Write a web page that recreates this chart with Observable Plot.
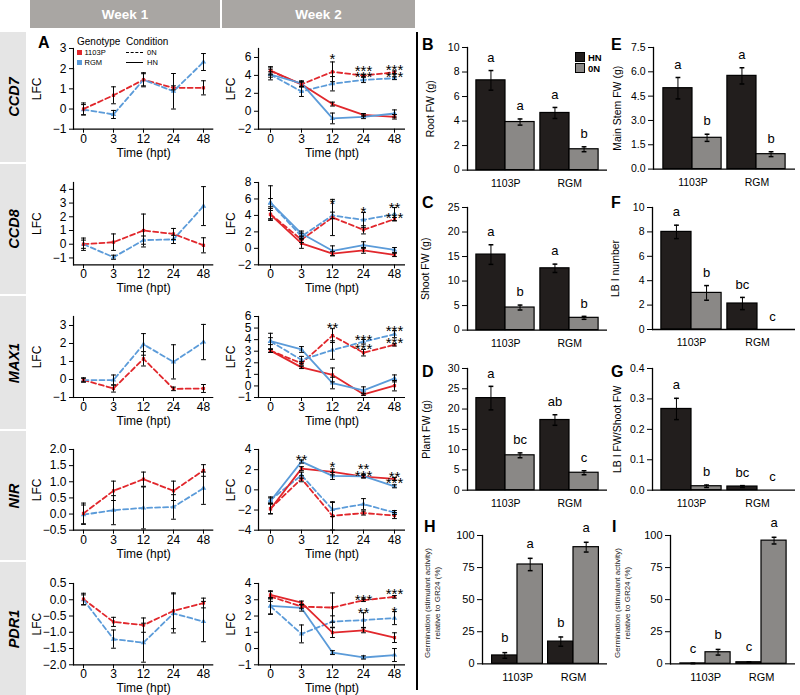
<!DOCTYPE html>
<html><head><meta charset="utf-8">
<script src="https://cdn.jsdelivr.net/npm/d3@7"></script>
<script src="https://cdn.jsdelivr.net/npm/@observablehq/plot@0.6"></script>
<style>
body{margin:0;background:#fff;}
#fig{position:relative;width:800px;height:695px;overflow:hidden;font-family:"Liberation Sans",Arial,Helvetica,sans-serif;color:#000;}
#fig > svg, #fig > div{position:absolute;}
#fig svg text{font-weight:normal;}
.hdr{background:#a9a6a3;color:#fff;font-weight:bold;font-size:13.5px;display:flex;align-items:center;justify-content:center;}
.rowbox{background:#e5e5e5;}
.rot{transform:translate(-50%,-50%) rotate(-90deg);white-space:nowrap;text-align:center;}
.gene{font-weight:bold;font-style:italic;font-size:14.5px;}
.plet{font-weight:bold;font-size:16px;line-height:16px;}
</style></head><body><div id="fig"></div>
<script>
// ---------------- DATA ----------------
const times = ["0", "3", "12", "24", "48"];
const genotypes = ["1103P", "RGM"];
const conditions = ["HN", "0N"];

// CCD7
const ccd7_w1_1103P_0N = [0.0, 0.68, 1.45, 1.05, 1.05];
const ccd7_w1_1103P_0N_se = [0.3, 0.42, 0.35, 0.1, 0.35];
const ccd7_w1_RGM_0N = [-0.03, -0.27, 1.45, 0.88, 2.33];
const ccd7_w1_RGM_0N_se = [0.25, 0.2, 0.3, 0.88, 0.42];
const ccd7_w2_1103P_0N = [4.5, 3.0, 4.4, 3.98, 4.35];
const ccd7_w2_1103P_0N_se = [0.45, 0.3, 1.1, 0.15, 0.15];
const ccd7_w2_RGM_0N = [4.1, 2.2, 3.07, 3.5, 3.68];
const ccd7_w2_RGM_0N_se = [0.6, 0.55, 0.8, 0.3, 0.15];
const ccd7_w2_1103P_HN = [4.55, 3.0, 0.8, -0.4, -0.62];
const ccd7_w2_1103P_HN_se = [0.4, 0.25, 0.22, 0.15, 0.25];
const ccd7_w2_RGM_HN = [4.1, 3.1, -0.8, -0.62, -0.25];
const ccd7_w2_RGM_HN_se = [0.3, 0.3, 0.6, 0.2, 0.4];
const ccd7_stars = [["12", 6.3, "*"], ["24", 4.9, "***"], ["24", 4.3, "***"], ["48", 5.05, "***"], ["48", 4.3, "***"]];

// CCD8
const ccd8_w1_1103P_0N = [0.0, 0.15, 1.0, 0.75, -0.08];
const ccd8_w1_1103P_0N_se = [0.45, 0.6, 1.2, 0.4, 0.55];
const ccd8_w1_RGM_0N = [0.0, -0.95, 0.3, 0.35, 2.78];
const ccd8_w1_RGM_0N_se = [0.3, 0.15, 0.3, 0.3, 1.42];
const ccd8_w2_1103P_0N = [4.15, 1.05, 3.75, 2.25, 3.55];
const ccd8_w2_1103P_0N_se = [0.7, 0.35, 2.2, 0.5, 0.2];
const ccd8_w2_RGM_0N = [5.5, 1.45, 4.0, 3.45, 4.15];
const ccd8_w2_RGM_0N_se = [2.1, 0.4, 0.4, 0.9, 0.8];
const ccd8_w2_1103P_HN = [4.1, 0.6, -0.65, -0.25, -0.8];
const ccd8_w2_1103P_HN_se = [0.5, 0.6, 0.25, 0.35, 0.2];
const ccd8_w2_RGM_HN = [5.55, 1.8, -0.3, 0.4, -0.2];
const ccd8_w2_RGM_HN_se = [0.5, 0.3, 0.6, 0.4, 0.3];
const ccd8_stars = [["12", 5.8, "*"], ["24", 4.9, "*"], ["48", 5.4, "**"], ["48", 4.1, "***"]];

// MAX1
const max1_w1_1103P_0N = [-0.03, -0.5, 1.15, -0.52, -0.5];
const max1_w1_1103P_0N_se = [0.1, 0.2, 0.4, 0.1, 0.22];
const max1_w1_RGM_0N = [-0.03, -0.03, 1.95, 0.98, 2.08];
const max1_w1_RGM_0N_se = [0.12, 0.28, 0.6, 0.95, 0.98];
const max1_w2_1103P_0N = [3.05, 1.95, 4.35, 2.87, 3.55];
const max1_w2_1103P_0N_se = [0.15, 0.15, 0.6, 0.28, 0.1];
const max1_w2_RGM_0N = [3.85, 2.25, 3.1, 3.82, 4.47];
const max1_w2_RGM_0N_se = [0.7, 0.3, 0.8, 0.2, 0.3];
const max1_w2_1103P_HN = [3.05, 1.6, 0.95, -0.72, 0.02];
const max1_w2_1103P_HN_se = [0.15, 0.1, 0.6, 0.1, 0.45];
const max1_w2_RGM_HN = [3.87, 3.15, 0.25, -0.38, 0.65];
const max1_w2_RGM_HN_se = [0.3, 0.25, 0.5, 0.3, 0.3];
const max1_stars = [["12", 5.3, "**"], ["24", 4.3, "***"], ["24", 3.5, "***"], ["48", 5.1, "***"], ["48", 4.05, "***"]];

// NIR
const nir_w1_1103P_0N = [0.02, 0.72, 1.08, 0.72, 1.35];
const nir_w1_1103P_0N_se = [0.32, 0.3, 0.22, 0.3, 0.18];
const nir_w1_RGM_0N = [-0.02, 0.12, 0.19, 0.22, 0.8];
const nir_w1_RGM_0N_se = [0.3, 0.45, 0.65, 0.38, 0.5];
const nir_w2_1103P_0N = [-1.85, 1.1, -2.58, -2.3, -2.55];
const nir_w2_1103P_0N_se = [0.5, 0.3, 1.4, 0.2, 0.3];
const nir_w2_RGM_0N = [-1.0, 1.45, -1.95, -1.42, -2.25];
const nir_w2_RGM_0N_se = [0.3, 0.3, 0.7, 0.55, 0.2];
const nir_w2_1103P_HN = [-1.9, 2.1, 1.78, 1.32, 1.08];
const nir_w2_1103P_HN_se = [0.5, 0.2, 0.3, 0.15, 0.15];
const nir_w2_RGM_HN = [-1.1, 2.8, 1.38, 1.35, 0.35];
const nir_w2_RGM_HN_se = [0.3, 0.15, 0.35, 0.15, 0.15];
const nir_stars = [["3", 3.35, "**"], ["12", 2.6, "*"], ["24", 2.45, "**"], ["24", 1.8, "***"], ["48", 1.62, "**"], ["48", 1.02, "***"]];

// PDR1
const pdr1_w1_1103P_0N = [0.02, -0.68, -0.78, -0.34, -0.1];
const pdr1_w1_1103P_0N_se = [0.18, 0.14, 0.22, 0.55, 0.15];
const pdr1_w1_RGM_0N = [0.0, -1.21, -1.32, -0.42, -0.67];
const pdr1_w1_RGM_0N_se = [0.15, 0.28, 0.6, 0.6, 0.62];
const pdr1_w2_1103P_0N = [3.2, 2.58, 2.52, 2.97, 3.18];
const pdr1_w2_1103P_0N_se = [0.3, 0.1, 0.9, 0.08, 0.08];
const pdr1_w2_RGM_0N = [2.6, 0.9, 1.66, 1.75, 1.87];
const pdr1_w2_RGM_0N_se = [0.5, 0.55, 0.35, 0.45, 0.4];
const pdr1_w2_1103P_HN = [3.3, 2.82, 0.98, 1.12, 0.67];
const pdr1_w2_1103P_HN_se = [0.25, 0.1, 0.3, 0.15, 0.3];
const pdr1_w2_RGM_HN = [2.63, 2.5, -0.25, -0.55, -0.4];
const pdr1_w2_RGM_HN_se = [0.5, 0.2, 0.12, 0.1, 0.4];
const pdr1_stars = [["24", 3.24, "***"], ["24", 2.42, "**"], ["48", 3.59, "***"], ["48", 2.48, "*"]];

// Bar panels: order 1103P-HN, 1103P-0N, RGM-HN, RGM-0N
const rootFW = [7.32, 3.92, 4.66, 1.70];
const rootFW_se = [0.8, 0.25, 0.45, 0.2];
const rootFW_letters = ["a", "a", "a", "b"];
const mainStemFW = [4.99, 1.93, 5.75, 0.92];
const mainStemFW_se = [0.66, 0.22, 0.5, 0.15];
const mainStemFW_letters = ["a", "b", "a", "b"];
const shootFW = [15.4, 4.6, 12.6, 2.5];
const shootFW_se = [2.0, 0.5, 0.85, 0.3];
const shootFW_letters = ["a", "b", "a", "b"];
const lbINumber = [8.0, 3.0, 2.13, 0];
const lbINumber_se = [0.55, 0.6, 0.5, 0];
const lbINumber_letters = ["a", "b", "bc", "c"];
const plantFW = [22.7, 8.6, 17.3, 4.3];
const plantFW_se = [2.9, 0.6, 1.3, 0.5];
const plantFW_letters = ["a", "bc", "ab", "c"];
const lbIRatio = [0.267, 0.013, 0.012, 0];
const lbIRatio_se = [0.035, 0.004, 0.003, 0];
const lbIRatio_letters = ["a", "b", "bc", "c"];
const germH = [6.5, 77.4, 17.3, 90.9];
const germH_se = [2.2, 4.8, 3.6, 3.8];
const germH_letters = ["b", "a", "b", "a"];
const germI = [0.3, 9.0, 1.2, 96.0];
const germI_se = [0.2, 2.2, 0.4, 2.6];
const germI_letters = ["c", "b", "c", "a"];

// ---------------- DRAWING ----------------
const FONT = '"Liberation Sans", Arial, Helvetica, sans-serif';
const RED = "#e1272c", BLUE = "#5b9bd9";
const HN_FILL = "#221e1d", ON_FILL = "#8a8886";
const fig = document.getElementById("fig");
const cap = {draw(ctx, size) { const w = Math.sqrt(size / Math.PI); ctx.moveTo(-w, 0); ctx.lineTo(w, 0); }};

function place(el, left, top) { el.style.position = "absolute"; el.style.left = left + "px"; el.style.top = top + "px"; fig.appendChild(el); return el; }
function div(cls, left, top, w, h, html, extra) {
  const d = document.createElement("div");
  if (cls) d.className = cls;
  d.style.left = left + "px"; d.style.top = top + "px";
  if (w != null) d.style.width = w + "px";
  if (h != null) d.style.height = h + "px";
  if (html != null) d.innerHTML = html;
  if (extra) Object.assign(d.style, extra);
  fig.appendChild(d); return d;
}

function series(genotype, condition, v, e) {
  return times.map((t, i) => ({t, genotype, condition, v: v[i], e: e[i]}));
}

function lineChart({x0, x1, y0, y1, domain, ticks, fmt, data, stars, labelOffset}) {
  const ml = 50, mr = 10, mt = 12, mb = 33;
  const dashed = data.filter(d => d.condition === "0N");
  const solid = data.filter(d => d.condition === "HN");
  const svg = Plot.plot({
    width: x1 - x0 + ml + mr, height: y1 - y0 + mt + mb,
    marginLeft: ml, marginRight: mr, marginTop: mt, marginBottom: mb,
    style: {fontFamily: FONT, fontSize: "12px", fontWeight: "normal", color: "#000", background: "transparent", overflow: "visible"},
    x: {type: "point", domain: times, padding: 0.3},
    y: {domain},
    color: {domain: genotypes, range: [RED, BLUE]},
    marks: [
      Plot.ruleY([domain[0]], {stroke: "#000", strokeWidth: 1.2}),
      Plot.frame({anchor: "left", stroke: "#000", strokeWidth: 1.2}),
      Plot.axisY({ticks, tickFormat: fmt, tickSize: 4, tickPadding: 3, label: "LFC", labelAnchor: "center", labelOffset, labelArrow: "none", fontSize: 12, fontWeight: "normal"}),
      Plot.axisX({tickSize: 4, tickPadding: 1, label: "Time (hpt)", labelAnchor: "center", labelOffset: 27.5, fontSize: 12, fontWeight: "normal"}),
      Plot.line(dashed, {x: "t", y: "v", z: "genotype", stroke: "genotype", strokeWidth: 1.8, strokeDasharray: "5,3"}),
      Plot.line(solid, {x: "t", y: "v", z: "genotype", stroke: "genotype", strokeWidth: 1.8}),
      Plot.dot(data.filter(d => d.genotype === "RGM"), {x: "t", y: "v", symbol: "triangle", fill: BLUE, r: 2}),
      Plot.dot(data.filter(d => d.genotype === "1103P"), {x: "t", y: "v", symbol: "square", fill: RED, r: 1.8}),
      Plot.ruleX(data, {x: "t", y1: d => d.v - d.e, y2: d => d.v + d.e, stroke: "#000", strokeWidth: 1}),
      Plot.dot(data, {x: "t", y: d => d.v + d.e, symbol: cap, r: 2.4, stroke: "#000", strokeWidth: 1, fill: "none"}),
      Plot.dot(data, {x: "t", y: d => d.v - d.e, symbol: cap, r: 2.4, stroke: "#000", strokeWidth: 1, fill: "none"}),
      Plot.text(stars.map(([t, y, s]) => ({t, y, s})), {x: "t", y: "y", text: "s", fontSize: 15, dy: 4})
    ]
  });
  place(svg, x0 - ml, y0 - mt);
}

function barChart({x0, x1, y0, y1, domain, ticks, fmt, v, e, l, label, labelOffset, o, half, letterDy, fs = 10.5}) {
  const ml = 60, mr = 6, mt = 22, mb = 26;
  const W = x1 - x0;
  const step = W / (4 + 2 * o);
  const rows = [];
  genotypes.forEach((g, gi) => conditions.forEach((c, ci) => {
    const i = gi * 2 + ci;
    rows.push({key: g + "|" + c, g, c, v: v[i], e: e[i], l: l[i]});
  }));
  const hn = rows.filter(d => d.c === "HN"), on = rows.filter(d => d.c === "0N");
  const errMarks = (arr, dx) => [
    Plot.ruleX(arr.filter(d => d.e > 0), {x: "key", y1: d => d.v - d.e, y2: d => d.v + d.e, stroke: "#000", strokeWidth: 1, dx}),
    Plot.dot(arr.filter(d => d.e > 0), {x: "key", y: d => d.v + d.e, symbol: cap, r: 2.4, stroke: "#000", fill: "none", dx}),
    Plot.dot(arr.filter(d => d.e > 0), {x: "key", y: d => d.v - d.e, symbol: cap, r: 2.4, stroke: "#000", fill: "none", dx}),
    Plot.text(arr, {x: "key", y: d => d.v + d.e, text: "l", fontSize: 13, dy: letterDy, dx})
  ];
  const marks = [
    Plot.barY(hn, {x: "key", y: "v", fill: HN_FILL, stroke: "#000", strokeWidth: 1.2, insetLeft: half}),
    Plot.barY(on, {x: "key", y: "v", fill: ON_FILL, stroke: "#000", strokeWidth: 1.2, insetRight: half}),
    ...errMarks(hn, half / 2),
    ...errMarks(on, -half / 2),
    Plot.ruleY([0], {stroke: "#000", strokeWidth: 1.3}),
    Plot.frame({anchor: "left", stroke: "#000", strokeWidth: 1.3}),
    Plot.axisY({ticks, tickFormat: fmt, tickSize: 5, tickPadding: 3, label, labelAnchor: "center", labelOffset, labelArrow: "none", fontSize: fs, fontWeight: "normal"}),
    Plot.axisX({ticks: ["1103P|HN", "RGM|HN"], tickFormat: d => d.split("|")[0], tickSize: 0, tickPadding: 9, dx: step / 2, label: null, fontSize: fs})
  ];
  const svg = Plot.plot({
    width: W + ml + mr, height: y1 - y0 + mt + mb,
    marginLeft: ml, marginRight: mr, marginTop: mt, marginBottom: mb,
    style: {fontFamily: FONT, fontSize: fs + "px", fontWeight: "normal", color: "#000", background: "transparent", overflow: "visible"},
    x: {type: "band", domain: rows.map(d => d.key), paddingInner: 0, paddingOuter: o},
    y: {domain},
    marks
  });
  place(svg, x0 - ml, y0 - mt);
}

// ---- headers, row labels, separator ----
div("hdr", 30, 0, 190, 28, "Week 1");
div("hdr", 222, 0, 193, 28, "Week 2");
const geneRows = [["CCD7", 31.7, 162], ["CCD8", 164, 294], ["MAX1", 296, 429], ["NIR", 431, 560], ["PDR1", 562, 695]];
geneRows.forEach(([g, a, b]) => {
  div("rowbox", 0, a, 26, b - a);
  div("rot gene", 14, (a + b) / 2, null, null, g);
});
div(null, 416, 32, 1.6, 658, null, {background: "#000"});

// ---- line charts ----
const fmt1 = d3.format(".1f");
const fmt0 = d3.format("d");
const geneCfg = [
  {top: 48.3, bottom: 129, w1: [[-1, 3], [-1, 0, 1, 2, 3], fmt0], w2: [[-2, 7], [-2, 0, 2, 4, 6], fmt0], stars: ccd7_stars,
   d1: [series("1103P", "0N", ccd7_w1_1103P_0N, ccd7_w1_1103P_0N_se), series("RGM", "0N", ccd7_w1_RGM_0N, ccd7_w1_RGM_0N_se)],
   d2: [series("1103P", "0N", ccd7_w2_1103P_0N, ccd7_w2_1103P_0N_se), series("RGM", "0N", ccd7_w2_RGM_0N, ccd7_w2_RGM_0N_se),
        series("1103P", "HN", ccd7_w2_1103P_HN, ccd7_w2_1103P_HN_se), series("RGM", "HN", ccd7_w2_RGM_HN, ccd7_w2_RGM_HN_se)]},
  {top: 181.7, bottom: 264, w1: [[-1.5, 4.5], [-1, 0, 1, 2, 3, 4], fmt0], w2: [[-2, 8], [-2, 0, 2, 4, 6, 8], fmt0], stars: ccd8_stars,
   d1: [series("1103P", "0N", ccd8_w1_1103P_0N, ccd8_w1_1103P_0N_se), series("RGM", "0N", ccd8_w1_RGM_0N, ccd8_w1_RGM_0N_se)],
   d2: [series("1103P", "0N", ccd8_w2_1103P_0N, ccd8_w2_1103P_0N_se), series("RGM", "0N", ccd8_w2_RGM_0N, ccd8_w2_RGM_0N_se),
        series("1103P", "HN", ccd8_w2_1103P_HN, ccd8_w2_1103P_HN_se), series("RGM", "HN", ccd8_w2_RGM_HN, ccd8_w2_RGM_HN_se)]},
  {top: 315.7, bottom: 396.7, w1: [[-1, 3.5], [-1, 0, 1, 2, 3], fmt0], w2: [[-1, 6], [-1, 0, 1, 2, 3, 4, 5, 6], fmt0], stars: max1_stars,
   d1: [series("1103P", "0N", max1_w1_1103P_0N, max1_w1_1103P_0N_se), series("RGM", "0N", max1_w1_RGM_0N, max1_w1_RGM_0N_se)],
   d2: [series("1103P", "0N", max1_w2_1103P_0N, max1_w2_1103P_0N_se), series("RGM", "0N", max1_w2_RGM_0N, max1_w2_RGM_0N_se),
        series("1103P", "HN", max1_w2_1103P_HN, max1_w2_1103P_HN_se), series("RGM", "HN", max1_w2_RGM_HN, max1_w2_RGM_HN_se)]},
  {top: 449.3, bottom: 530, w1: [[-0.5, 2], [-0.5, 0, 0.5, 1, 1.5, 2], fmt1], w2: [[-4, 4], [-4, -2, 0, 2, 4], fmt0], stars: nir_stars,
   d1: [series("1103P", "0N", nir_w1_1103P_0N, nir_w1_1103P_0N_se), series("RGM", "0N", nir_w1_RGM_0N, nir_w1_RGM_0N_se)],
   d2: [series("1103P", "0N", nir_w2_1103P_0N, nir_w2_1103P_0N_se), series("RGM", "0N", nir_w2_RGM_0N, nir_w2_RGM_0N_se),
        series("1103P", "HN", nir_w2_1103P_HN, nir_w2_1103P_HN_se), series("RGM", "HN", nir_w2_RGM_HN, nir_w2_RGM_HN_se)]},
  {top: 582.7, bottom: 664, w1: [[-2, 0.5], [-2, -1.5, -1, -0.5, 0, 0.5], fmt1], w2: [[-1, 4], [-1, 0, 1, 2, 3, 4], fmt0], stars: pdr1_stars,
   d1: [series("1103P", "0N", pdr1_w1_1103P_0N, pdr1_w1_1103P_0N_se), series("RGM", "0N", pdr1_w1_RGM_0N, pdr1_w1_RGM_0N_se)],
   d2: [series("1103P", "0N", pdr1_w2_1103P_0N, pdr1_w2_1103P_0N_se), series("RGM", "0N", pdr1_w2_RGM_0N, pdr1_w2_RGM_0N_se),
        series("1103P", "HN", pdr1_w2_1103P_HN, pdr1_w2_1103P_HN_se), series("RGM", "HN", pdr1_w2_RGM_HN, pdr1_w2_RGM_HN_se)]}
];
geneCfg.forEach(c => {
  lineChart({x0: 72.7, x1: 213, y0: c.top, y1: c.bottom, domain: c.w1[0], ticks: c.w1[1], fmt: c.w1[2], data: c.d1.flat(), stars: [], labelOffset: 41});
  lineChart({x0: 258, x1: 405, y0: c.top, y1: c.bottom, domain: c.w2[0], ticks: c.w2[1], fmt: c.w2[2], data: c.d2.flat(), stars: c.stars, labelOffset: 32});
});

// legend for line charts
div(null, 74, 36, 96, 32, null, {background: "#fff"});
div(null, 77, 35.5, null, null, "Genotype", {fontSize: "10px", lineHeight: "12px"});
div(null, 126, 35.5, null, null, "Condition", {fontSize: "10px", lineHeight: "12px"});
div(null, 76.7, 50.2, 5, 5, null, {background: RED});
div(null, 76.7, 59.8, 5, 5, null, {background: BLUE});
div(null, 84.5, 48.2, null, null, "1103P", {fontSize: "7.5px", lineHeight: "9px"});
div(null, 84.5, 57.8, null, null, "RGM", {fontSize: "7.5px", lineHeight: "9px"});
div(null, 147, 48.2, null, null, "0N", {fontSize: "7.5px", lineHeight: "9px"});
div(null, 147, 57.8, null, null, "HN", {fontSize: "7.5px", lineHeight: "9px"});
div(null, 126, 52, 17, 0, null, {borderTop: "1.3px dashed #000"});
div(null, 126, 61.7, 17, 0, null, {borderTop: "1.3px solid #000"});
div("plet", 38, 35, null, null, "A");

// ---- bar charts ----
const topO = 0.16, topHalf = 2.9;
barChart({x0: 466.7, x1: 606.7, y0: 46.7, y1: 169.3, domain: [0, 10], ticks: [0, 2, 4, 6, 8, 10], fmt: fmt0,
  v: rootFW, e: rootFW_se, l: rootFW_letters, label: "Root FW (g)", labelOffset: 41, o: topO, half: topHalf, letterDy: -13});
barChart({x0: 653, x1: 795, y0: 46.7, y1: 168.3, domain: [0, 7.5], ticks: [0, 1.5, 3, 4.5, 6, 7.5], fmt: fmt1,
  v: mainStemFW, e: mainStemFW_se, l: mainStemFW_letters, label: "Main Stem FW (g)", labelOffset: 40, o: topO, half: topHalf, letterDy: -13});
barChart({x0: 466.7, x1: 606.7, y0: 206.7, y1: 329.3, domain: [0, 25], ticks: [0, 5, 10, 15, 20, 25], fmt: fmt0,
  v: shootFW, e: shootFW_se, l: shootFW_letters, label: "Shoot FW (g)", labelOffset: 46, o: topO, half: topHalf, letterDy: -13});
barChart({x0: 652, x1: 795, y0: 207.3, y1: 329.3, domain: [0, 10], ticks: [0, 2, 4, 6, 8, 10], fmt: fmt0,
  v: lbINumber, e: lbINumber_se, l: lbINumber_letters, label: "LB I number", labelOffset: 41, o: topO, half: topHalf, letterDy: -13});
barChart({x0: 466.7, x1: 606.7, y0: 368.3, y1: 490, domain: [0, 30], ticks: [0, 5, 10, 15, 20, 25, 30], fmt: fmt0,
  v: plantFW, e: plantFW_se, l: plantFW_letters, label: "Plant FW (g)", labelOffset: 45, o: topO, half: topHalf, letterDy: -13});
barChart({x0: 652, x1: 795, y0: 368.3, y1: 490, domain: [0, 0.4], ticks: [0, 0.1, 0.2, 0.3, 0.4], fmt: fmt1,
  v: lbIRatio, e: lbIRatio_se, l: lbIRatio_letters, label: "LB I FW/Shoot FW", labelOffset: 39, o: topO, half: topHalf, letterDy: -13});
barChart({x0: 481.7, x1: 606.7, y0: 535, y1: 663.3, domain: [0, 100], ticks: [0, 25, 50, 75, 100], fmt: fmt0,
  v: germH, e: germH_se, l: germH_letters, label: null, labelOffset: 40, o: 0.215, half: 2.6, letterDy: -14.5, fs: 11});
barChart({x0: 670, x1: 795, y0: 535, y1: 663.3, domain: [0, 100], ticks: [0, 25, 50, 75, 100], fmt: fmt0,
  v: germI, e: germI_se, l: germI_letters, label: null, labelOffset: 40, o: 0.215, half: 2.9, letterDy: -14.5, fs: 11});

// germination y labels (two lines)
[[433, 603], [623, 603]].forEach(([cx, cy]) => {
  div("rot", cx, cy, null, null, "Germination (stimulant activity)<br>relative to GR24 (%)", {fontSize: "8px", lineHeight: "10px", color: "#222"});
});

// bar legend
div(null, 575, 52, 10, 10, null, {background: HN_FILL, boxSizing: "border-box", border: "1px solid #000"});
div(null, 575, 63, 10, 10, null, {background: ON_FILL, boxSizing: "border-box", border: "1px solid #000"});
div(null, 588, 51.5, null, null, "HN", {fontSize: "9.5px", fontWeight: "bold", lineHeight: "11px"});
div(null, 588, 62.5, null, null, "0N", {fontSize: "9.5px", fontWeight: "bold", lineHeight: "11px"});

// panel letters
[["B", 422, 37], ["E", 611, 37], ["C", 422, 195], ["F", 611, 195], ["D", 422, 364], ["G", 611, 364], ["H", 424, 519], ["I", 612, 519]]
  .forEach(([t, x, y]) => div("plet", x, y, null, null, t));
</script></body></html>
